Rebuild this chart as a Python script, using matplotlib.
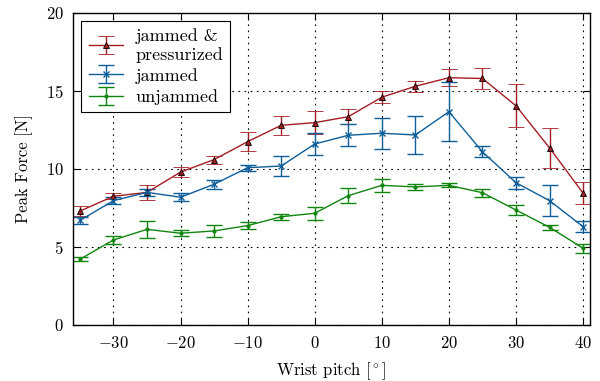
import matplotlib
matplotlib.use('Agg')
import matplotlib.pyplot as plt
import numpy as np

plt.rcParams['font.family'] = 'serif'
plt.rcParams['font.serif'] = ['cmr10']
plt.rcParams['mathtext.fontset'] = 'cm'
plt.rcParams['axes.formatter.use_mathtext'] = True

# wrist pitch angles
pitch = [-35, -30, -25, -20, -15, -10, -5, 0, 5, 10, 15, 20, 25, 30, 35, 40]

# jammed & pressurized
jp_mean = [7.3, 8.25, 8.5, 9.8, 10.6, 11.75, 12.8, 12.97, 13.35, 14.6, 15.3, 15.85, 15.8, 14.05, 11.35, 8.45]
jp_err = [0.3, 0.2, 0.5, 0.3, 0.25, 0.62, 0.6, 0.72, 0.47, 0.4, 0.35, 0.55, 0.65, 1.37, 1.3, 0.7]

# jammed
j_mean = [6.7, 7.97, 8.5, 8.19, 9.02, 10.08, 10.19, 11.6, 12.16, 12.29, 12.18, 13.67, 11.1, 9.12, 7.97, 6.3]
j_err = [0.25, 0.22, 0.22, 0.24, 0.3, 0.2, 0.62, 0.68, 0.7, 1.0, 1.2, 1.9, 0.35, 0.38, 1.0, 0.37]

# unjammed
u_mean = [4.21, 5.45, 6.13, 5.88, 6.03, 6.37, 6.94, 7.16, 8.29, 8.95, 8.85, 8.95, 8.48, 7.37, 6.26, 4.92]
u_err = [0.12, 0.26, 0.55, 0.2, 0.4, 0.23, 0.2, 0.43, 0.47, 0.43, 0.2, 0.12, 0.25, 0.3, 0.16, 0.28]

fig = plt.figure(figsize=(6, 3.81), dpi=100)
ax = fig.add_axes([0.122, 0.147, 0.861, 0.819])

ax.errorbar(pitch, jp_mean, yerr=jp_err, color='#a51d23', marker='^', markersize=5,
            markerfacecolor='#a51d23', markeredgecolor='black', markeredgewidth=0.6,
            linewidth=1.0, capsize=5.5, elinewidth=1.0, label='jammed &\npressurized')
ax.errorbar(pitch, j_mean, yerr=j_err, color='#0e5e9a', marker='x', markersize=4,
            linewidth=1.0, capsize=5.5, elinewidth=1.0, label='jammed')
ax.errorbar(pitch, u_mean, yerr=u_err, color='#108510', marker='.', markersize=4,
            linewidth=1.0, capsize=5.5, elinewidth=1.0, label='unjammed')

ax.set_xlim(-36, 41)
ax.set_ylim(0, 20)
ax.set_xticks([-30, -20, -10, 0, 10, 20, 30, 40])
ax.set_yticks([0, 5, 10, 15, 20])
ax.grid(True, color='black', linestyle=(0, (1.5, 4)), linewidth=0.8)
ax.tick_params(direction='in', top=True, right=True, length=5, labelsize=12, pad=7)
for s in ax.spines.values():
    s.set_linewidth(1.0)

ax.set_xlabel(r'Wrist pitch [$^\circ$]', fontsize=12, labelpad=7)
ax.set_ylabel('Peak Force [N]', fontsize=12, labelpad=9)

leg = ax.legend(loc='upper left', fontsize=13, fancybox=False, edgecolor='black',
                framealpha=1, borderaxespad=0.45, handlelength=1.9, handletextpad=0.7,
                labelspacing=0.3, borderpad=0.4)
leg.get_frame().set_linewidth(0.8)

fig.savefig('out.png', dpi=100)
